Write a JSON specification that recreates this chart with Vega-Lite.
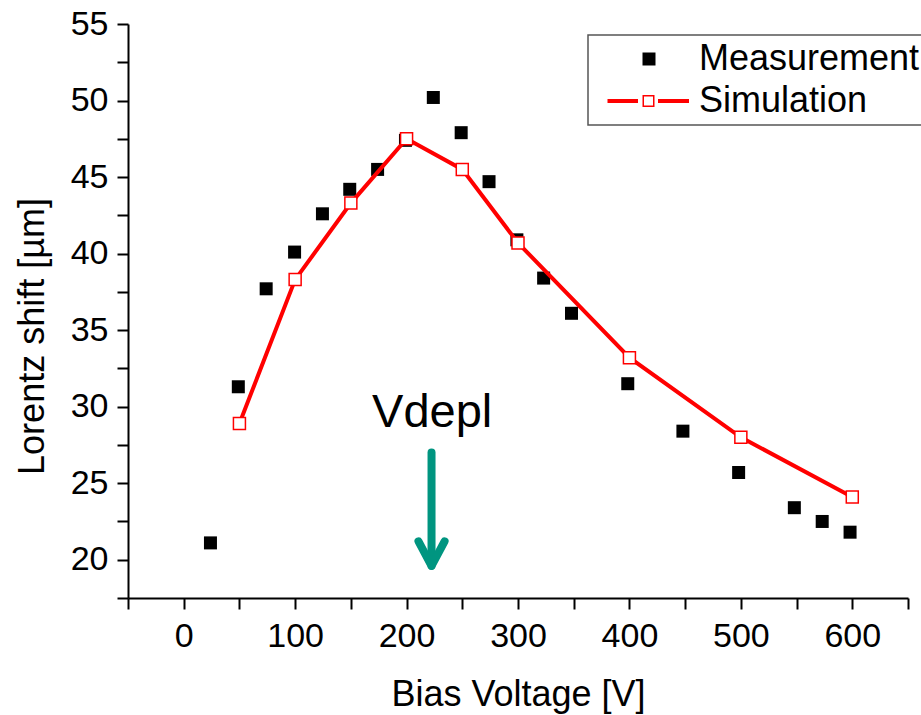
{
  "$schema": "https://vega.github.io/schema/vega-lite/v6.json",
  "width": 780,
  "height": 574,
  "autosize": {"type": "none"},
  "padding": {"left": 128, "top": 24, "right": 13, "bottom": 117},
  "background": "white",
  "config": {
    "view": {"stroke": null},
    "font": "Liberation Sans",
    "axis": {"grid": false, "domainColor": "black", "domainWidth": 2, "tickColor": "black", "tickWidth": 2, "labelColor": "black", "titleColor": "black", "labelFont": "Liberation Sans", "titleFont": "Liberation Sans", "titleFontWeight": "normal", "labelFontSize": 34, "titleFontSize": 36, "tickSize": 11}
  },
  "datasets": {
    "meas": [
      {"series": "Measurement", "v": 24, "s": 21.1},
      {"series": "Measurement", "v": 49, "s": 31.3},
      {"series": "Measurement", "v": 74, "s": 37.7},
      {"series": "Measurement", "v": 99.5, "s": 40.1},
      {"series": "Measurement", "v": 124.5, "s": 42.6},
      {"series": "Measurement", "v": 149, "s": 44.2},
      {"series": "Measurement", "v": 174, "s": 45.5},
      {"series": "Measurement", "v": 199, "s": 47.4},
      {"series": "Measurement", "v": 224, "s": 50.2},
      {"series": "Measurement", "v": 249, "s": 47.9},
      {"series": "Measurement", "v": 274, "s": 44.7},
      {"series": "Measurement", "v": 299, "s": 40.9},
      {"series": "Measurement", "v": 323, "s": 38.4},
      {"series": "Measurement", "v": 348, "s": 36.1},
      {"series": "Measurement", "v": 398.5, "s": 31.5},
      {"series": "Measurement", "v": 448, "s": 28.4},
      {"series": "Measurement", "v": 498, "s": 25.7},
      {"series": "Measurement", "v": 548, "s": 23.4},
      {"series": "Measurement", "v": 573, "s": 22.5},
      {"series": "Measurement", "v": 598, "s": 21.8}
    ],
    "sim": [
      {"series": "Simulation", "v": 50, "s": 28.9},
      {"series": "Simulation", "v": 100, "s": 38.3},
      {"series": "Simulation", "v": 150, "s": 43.3},
      {"series": "Simulation", "v": 200, "s": 47.5},
      {"series": "Simulation", "v": 250, "s": 45.5},
      {"series": "Simulation", "v": 300, "s": 40.7},
      {"series": "Simulation", "v": 400, "s": 33.2},
      {"series": "Simulation", "v": 500, "s": 28.0},
      {"series": "Simulation", "v": 600, "s": 24.1}
    ],
    "arrow": [
      {"part": "shaft", "o": 1, "v": 222.4, "s": 27.0},
      {"part": "shaft", "o": 2, "v": 222.4, "s": 19.6},
      {"part": "head", "o": 1, "v": 210.7, "s": 21.2},
      {"part": "head", "o": 2, "v": 222.4, "s": 19.6},
      {"part": "head", "o": 3, "v": 234.1, "s": 21.2}
    ],
    "note": [
      {"label": "Vdepl", "v": 223, "s": 28.7}
    ]
  },
  "layer": [
    {
      "data": {"name": "meas"},
      "mark": {"type": "point", "shape": "square", "filled": true, "size": 169, "opacity": 1, "strokeWidth": 0, "color": "#000000"},
      "encoding": {
        "x": {
          "field": "v", "type": "quantitative",
          "scale": {"domain": [-50, 650], "nice": false, "zero": false},
          "axis": {
            "title": "Bias Voltage [V]",
            "values": [-50, 0, 50, 100, 150, 200, 250, 300, 350, 400, 450, 500, 550, 600, 650],
            "tickCount": 100,
            "labelExpr": "datum.value % 100 === 0 ? format(datum.value, 'd') : ''",
            "labelPadding": 10,
            "labelFlush": false,
            "labelOverlap": false,
            "titleX": 390,
            "titleY": 107,
            "titleBaseline": "alphabetic",
            "titleAlign": "center",
            "encode": {"ticks": {"update": {"y2": {"signal": "datum.value % 100 === 0 ? 11 : 6"}}}}
          }
        },
        "y": {
          "field": "s", "type": "quantitative",
          "scale": {"domain": [17.5, 55], "nice": false, "zero": false},
          "axis": {
            "title": "Lorentz shift [µm]",
            "values": [17.5, 20, 22.5, 25, 27.5, 30, 32.5, 35, 37.5, 40, 42.5, 45, 47.5, 50, 52.5, 55],
            "tickCount": 100,
            "labelExpr": "datum.value % 5 === 0 ? format(datum.value, 'd') : ''",
            "labelPadding": 9,
            "labelFlush": false,
            "labelOverlap": false,
            "titleAngle": 270,
            "titleX": -85,
            "titleY": 312,
            "titleBaseline": "alphabetic",
            "titleAlign": "center",
            "encode": {"ticks": {"update": {"x2": {"signal": "datum.value % 5 === 0 ? -11 : -6"}}}}
          }
        }
      }
    },
    {
      "data": {"name": "sim"},
      "mark": {"type": "line", "color": "#ff0000", "strokeWidth": 4},
      "encoding": {
        "x": {"field": "v", "type": "quantitative"},
        "y": {"field": "s", "type": "quantitative"}
      }
    },
    {
      "data": {"name": "sim"},
      "mark": {"type": "point", "shape": "square", "filled": false, "fill": "white", "fillOpacity": 1, "stroke": "#ff0000", "strokeWidth": 1.5, "size": 144, "opacity": 1},
      "encoding": {
        "x": {"field": "v", "type": "quantitative"},
        "y": {"field": "s", "type": "quantitative"}
      }
    },
    {
      "data": {"name": "sim"},
      "mark": {"type": "point", "filled": true, "opacity": 0, "size": 400, "strokeWidth": 0},
      "encoding": {
        "x": {"field": "v", "type": "quantitative"},
        "y": {"field": "s", "type": "quantitative"},
        "color": {
          "field": "series", "type": "nominal",
          "scale": {"domain": ["Measurement", "Simulation"], "range": ["#000000", "#ff0000"]},
          "legend": {
            "title": null,
            "orient": "none",
            "legendX": 460,
            "legendY": 11,
            "padding": 6,
            "symbolSize": 400,
            "symbolStrokeWidth": 0,
            "symbolOpacity": 1,
            "labelOffset": 69,
            "labelLimit": 500,
            "labelFont": "Liberation Sans",
            "labelFontSize": 36,
            "labelColor": "black",
            "rowPadding": 6,
            "strokeColor": "#555555",
            "encode": {
              "legend": {"update": {"strokeWidth": {"value": 1.5}}},
              "symbols": {"update": {
                "fill": {"signal": "datum.value === 'Measurement' ? '#000000' : '#ff0000'"},
                "opacity": {"value": 1},
                "strokeWidth": {"value": 0}
              }}
            }
          }
        },
        "shape": {
          "field": "series", "type": "nominal",
          "scale": {"domain": ["Measurement", "Simulation"], "range": ["M3.05,-0.65H4.35V0.65H3.05Z", "M-0.45,-0.2H2.6V0.2H-0.45Z M4.6,-0.2H7.7V0.2H4.6Z M3.05,-0.6H4.25V0.6H3.05Z M3.2,-0.45V0.45H4.1V-0.45Z"]},
          "legend": {
            "title": null,
            "orient": "none",
            "legendX": 460,
            "legendY": 11,
            "padding": 6,
            "symbolSize": 400,
            "symbolStrokeWidth": 0,
            "symbolOpacity": 1,
            "labelOffset": 69,
            "labelLimit": 500,
            "labelFont": "Liberation Sans",
            "labelFontSize": 36,
            "labelColor": "black",
            "rowPadding": 6,
            "strokeColor": "#555555",
            "encode": {
              "legend": {"update": {"strokeWidth": {"value": 1.5}}},
              "symbols": {"update": {
                "fill": {"signal": "datum.value === 'Measurement' ? '#000000' : '#ff0000'"},
                "opacity": {"value": 1},
                "strokeWidth": {"value": 0}
              }}
            }
          }
        }
      }
    },
    {
      "data": {"name": "arrow"},
      "mark": {"type": "line", "color": "#009580", "strokeWidth": 8, "strokeCap": "round", "strokeJoin": "round"},
      "encoding": {
        "x": {"field": "v", "type": "quantitative"},
        "y": {"field": "s", "type": "quantitative"},
        "detail": {"field": "part"},
        "order": {"field": "o", "type": "quantitative"}
      }
    },
    {
      "data": {"name": "note"},
      "mark": {"type": "text", "font": "Liberation Sans", "fontSize": 47, "align": "center", "baseline": "alphabetic", "color": "black"},
      "encoding": {
        "x": {"field": "v", "type": "quantitative"},
        "y": {"field": "s", "type": "quantitative"},
        "text": {"field": "label"}
      }
    }
  ]
}
